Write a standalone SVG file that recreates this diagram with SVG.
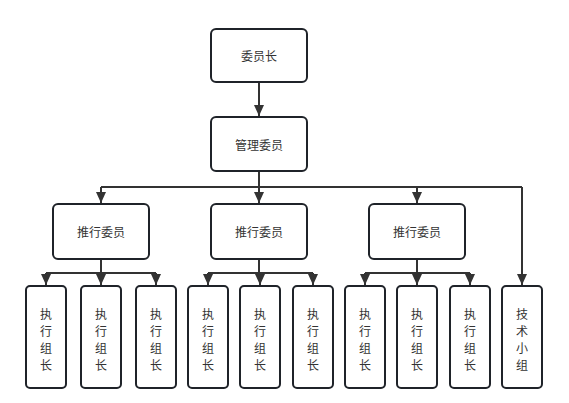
<svg xmlns="http://www.w3.org/2000/svg" width="569" height="403" viewBox="0 0 569 403">
<style>
.box{fill:#fff;stroke:#1f2329;stroke-width:2}
.ln{fill:none;stroke:#333;stroke-width:2}
.arr{fill:none;stroke:#333;stroke-width:2;marker-end:url(#ah)}
text{font-family:"Noto Sans CJK SC","Liberation Sans",sans-serif;font-size:12px;fill:#333;text-anchor:middle;dominant-baseline:central}
</style>
<defs>
<marker id="ah" markerUnits="userSpaceOnUse" markerWidth="12" markerHeight="10" refX="11" refY="5" orient="auto">
<path d="M0,0 L11,5 L0,10 z" fill="#333"/>
</marker>
</defs>
<rect width="569" height="403" fill="#fff"/>
<g id="connectors">
<path class="arr" d="M259,82 V116"/>
<path class="ln" d="M259,171 V187 M101,187 H522"/>
<path class="arr" d="M101,187 V203"/>
<path class="arr" d="M259,187 V203"/>
<path class="arr" d="M417,187 V203"/>
<path class="arr" d="M522,187 V285"/>
<path class="ln" d="M101,259 V273 M46,273 H156"/>
<path class="arr" d="M46,273 V285"/>
<path class="arr" d="M101,273 V285"/>
<path class="arr" d="M156,273 V285"/>
<path class="ln" d="M259,259 V273 M208,273 H313"/>
<path class="arr" d="M208,273 V285"/>
<path class="arr" d="M260,273 V285"/>
<path class="arr" d="M313,273 V285"/>
<path class="ln" d="M417,259 V273 M365,273 H470"/>
<path class="arr" d="M365,273 V285"/>
<path class="arr" d="M417,273 V285"/>
<path class="arr" d="M470,273 V285"/>
</g>
<g id="n-chair"><rect class="box" x="211" y="29" width="96" height="53" rx="5"/><text x="259" y="55.5">委员长</text></g>
<g id="n-mgmt"><rect class="box" x="211" y="117" width="96" height="54" rx="5"/><text x="259" y="144">管理委员</text></g>
<g id="n-p1"><rect class="box" x="53" y="204" width="96" height="55" rx="5"/><text x="101" y="231.5">推行委员</text></g>
<g id="n-p2"><rect class="box" x="211" y="204" width="96" height="55" rx="5"/><text x="259" y="231.5">推行委员</text></g>
<g id="n-p3"><rect class="box" x="369" y="204" width="96" height="55" rx="5"/><text x="417" y="231.5">推行委员</text></g>
<g id="n-e1"><rect class="box" x="26" y="286" width="40" height="102" rx="4"/><text x="46"><tspan x="46" y="313">执</tspan><tspan x="46" y="330">行</tspan><tspan x="46" y="347">组</tspan><tspan x="46" y="364">长</tspan></text></g>
<g id="n-e2"><rect class="box" x="81" y="286" width="40" height="102" rx="4"/><text x="101"><tspan x="101" y="313">执</tspan><tspan x="101" y="330">行</tspan><tspan x="101" y="347">组</tspan><tspan x="101" y="364">长</tspan></text></g>
<g id="n-e3"><rect class="box" x="136" y="286" width="40" height="102" rx="4"/><text x="156"><tspan x="156" y="313">执</tspan><tspan x="156" y="330">行</tspan><tspan x="156" y="347">组</tspan><tspan x="156" y="364">长</tspan></text></g>
<g id="n-e4"><rect class="box" x="188" y="286" width="40" height="102" rx="4"/><text x="208"><tspan x="208" y="313">执</tspan><tspan x="208" y="330">行</tspan><tspan x="208" y="347">组</tspan><tspan x="208" y="364">长</tspan></text></g>
<g id="n-e5"><rect class="box" x="240" y="286" width="40" height="102" rx="4"/><text x="260"><tspan x="260" y="313">执</tspan><tspan x="260" y="330">行</tspan><tspan x="260" y="347">组</tspan><tspan x="260" y="364">长</tspan></text></g>
<g id="n-e6"><rect class="box" x="293" y="286" width="40" height="102" rx="4"/><text x="313"><tspan x="313" y="313">执</tspan><tspan x="313" y="330">行</tspan><tspan x="313" y="347">组</tspan><tspan x="313" y="364">长</tspan></text></g>
<g id="n-e7"><rect class="box" x="345" y="286" width="40" height="102" rx="4"/><text x="365"><tspan x="365" y="313">执</tspan><tspan x="365" y="330">行</tspan><tspan x="365" y="347">组</tspan><tspan x="365" y="364">长</tspan></text></g>
<g id="n-e8"><rect class="box" x="397" y="286" width="40" height="102" rx="4"/><text x="417"><tspan x="417" y="313">执</tspan><tspan x="417" y="330">行</tspan><tspan x="417" y="347">组</tspan><tspan x="417" y="364">长</tspan></text></g>
<g id="n-e9"><rect class="box" x="450" y="286" width="40" height="102" rx="4"/><text x="470"><tspan x="470" y="313">执</tspan><tspan x="470" y="330">行</tspan><tspan x="470" y="347">组</tspan><tspan x="470" y="364">长</tspan></text></g>
<g id="n-tech"><rect class="box" x="502" y="286" width="40" height="102" rx="4"/><text x="522"><tspan x="522" y="313">技</tspan><tspan x="522" y="330">术</tspan><tspan x="522" y="347">小</tspan><tspan x="522" y="364">组</tspan></text></g>
</svg>
